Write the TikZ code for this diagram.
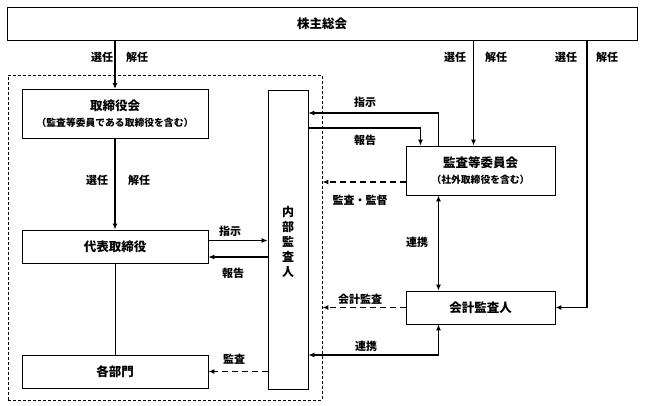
\documentclass[tikz,border=0pt]{standalone}
\usepackage{fontspec}
\setmainfont{Noto Sans CJK JP}
\usetikzlibrary{arrows.meta}

\tikzset{
	box/.style={draw, line width=0.8pt, minimum width=186pt, minimum height=33pt, inner sep=0pt, align=center},
	lbl/.style={font=\bfseries\fontsize{11}{12}\selectfont, inner sep=1pt},
	sub/.style={font=\bfseries\fontsize{9.5}{10}\selectfont},
	arr/.style={line width=1.1pt, -{Latex[length=6pt,width=5pt]}},
	duoarr/.style={line width=1.1pt, {Latex[length=6pt,width=5pt]}-{Latex[length=6pt,width=5pt]}},
	thickarr/.style={line width=1.6pt, -{Latex[length=6pt,width=5pt]}},
	dasharr/.style={line width=1.8pt, dash pattern=on 6pt off 4pt, -{Latex[length=6pt,width=5pt]}}
}

\begin{document}
\begin{tikzpicture}[x=1pt,y=-1pt,font=\bfseries\fontsize{12.5}{14}\selectfont]
	\useasboundingbox (0,0) rectangle (648,406);
	% Specification of nodes (position, etc.)
	\node (soukai)		[box, minimum width=630pt]	at (322,24)		{株主総会};
	\node (group)		[draw, line width=0.8pt, dash pattern=on 3pt off 2pt, minimum width=314pt, minimum height=325pt]
												at (165,237.5)	{};
	\node (torikai)		[box, minimum height=49pt]	at (115,114)
		{取締役会\\[2pt]{\fontsize{9.8}{10}\selectfont （監査等委員である取締役を含む）}};
	\node (daihyo)		[box]						at (115,246.5)	{代表取締役};
	\node (bumon)		[box]						at (115,371.5)	{各部門};
	\node (naibu)		[box, minimum width=40pt, minimum height=299pt]
												at (288,239.5)	{};
	\node (naibutxt)	[align=center, font=\bfseries\fontsize{12}{15}\selectfont]
												at (288,242)	{内\\部\\監\\査\\人};
	\node (iinkai)		[box, minimum width=149pt, minimum height=49pt]	at (480.5,170.5)
		{監査等委員会\\[2pt]{\fontsize{9.8}{10}\selectfont （社外取締役を含む）}};
	\node (kaikei)		[box, minimum width=149pt]	at (480.5,307.5)	{会計監査人};

	% labels
	\node (sen1)	[lbl] at (102,57)	{選任};
	\node (kai1)	[lbl] at (137,57)	{解任};
	\node (sen2)	[lbl] at (97,180)	{選任};
	\node (kai2)	[lbl] at (139,180)	{解任};
	\node (sen3)	[lbl] at (455,57)	{選任};
	\node (kai3)	[lbl] at (496,57)	{解任};
	\node (sen4)	[lbl] at (566,57)	{選任};
	\node (kai4)	[lbl] at (607,57)	{解任};
	\node (shiji1)	[lbl] at (230,231)	{指示};
	\node (hou1)	[lbl] at (233,273)	{報告};
	\node (kansa1)	[lbl] at (234,359)	{監査};
	\node (shiji2)	[lbl] at (365,102)	{指示};
	\node (hou2)	[lbl] at (365,140)	{報告};
	\node (kantoku)	[lbl] at (360,200)	{監査・監督};
	\node (renkei1)	[lbl] at (417,242)	{連携};
	\node (kansa2)	[lbl] at (360,299)	{会計監査};
	\node (renkei2)	[lbl] at (366,346)	{連携};

	% Specification of lines between nodes specified above
	\draw[thickarr]	(torikai.north |- soukai.south) -- (torikai.north);
	\draw[thickarr]	(torikai.south) -- (daihyo.north);
	\draw[line width=0.8pt]	(daihyo.south) -- (bumon.north);
	\draw[arr]		([yshift=6pt]daihyo.east) -- ([yshift=6pt]daihyo.east -| naibu.west);
	\draw[arr]		([yshift=-10.5pt]daihyo.east -| naibu.west) -- ([yshift=-10.5pt]daihyo.east);
	\draw[dasharr]	(bumon.east -| naibu.west) -- (bumon.east);
	\draw[arr]		([xshift=-42pt]iinkai.north) |- (naibu.east |- 0,113);
	\draw[arr]		(naibu.east |- 0,128) -| ([xshift=-60pt]iinkai.north);
	\draw[thickarr]	([xshift=-7pt]iinkai.north |- soukai.south) -- ([xshift=-7pt]iinkai.north);
	\draw[dasharr]	([yshift=-11.5pt]iinkai.west) -- ([yshift=-11.5pt]iinkai.west -| group.east);
	\draw[duoarr]	([xshift=-42pt]iinkai.south) -- ([xshift=-42pt]kaikei.north);
	\draw[thickarr]	(soukai.south -| 587,0) |- (kaikei.east);
	\draw[dasharr]	(kaikei.west) -- (kaikei.west -| group.east);
	\draw[duoarr]	([xshift=-42pt]kaikei.south) |- (naibu.east |- 0,355);
\end{tikzpicture}
\end{document}
